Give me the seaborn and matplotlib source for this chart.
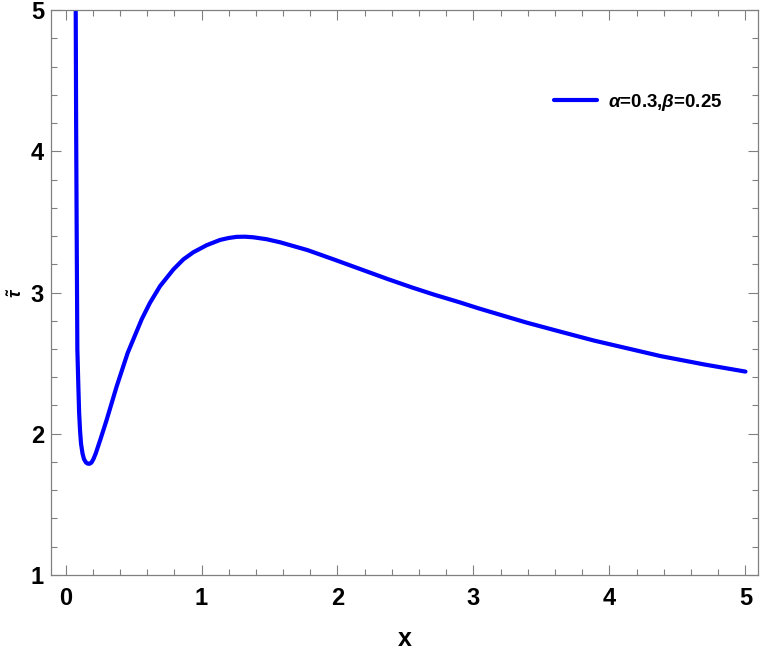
import pandas as pd
from matplotlib import pyplot as plt
from matplotlib.ticker import MultipleLocator
import seaborn as sns

# curve values
x_vals = [0.072, 0.075, 0.078, 0.082, 0.087, 0.094, 0.100, 0.107, 0.114, 0.125,
          0.136, 0.150, 0.162, 0.175, 0.190, 0.205, 0.222, 0.260, 0.303, 0.376,
          0.457, 0.560, 0.621, 0.695, 0.793, 0.866, 0.940, 1.038, 1.136, 1.200,
          1.259, 1.320, 1.381, 1.480, 1.580, 1.780, 1.970, 2.170, 2.370, 2.550,
          2.710, 2.900, 3.040, 3.390, 3.630, 3.885, 4.130, 4.375, 4.700, 5.000]
tau_vals = [6.00, 5.00, 4.20, 3.45, 2.60, 2.35, 2.15, 2.02, 1.93, 1.86,
            1.82, 1.797, 1.789, 1.787, 1.795, 1.82, 1.86, 1.97, 2.10, 2.335,
            2.572, 2.81, 2.927, 3.045, 3.163, 3.234, 3.285, 3.335, 3.372, 3.386,
            3.394, 3.395, 3.391, 3.377, 3.355, 3.30, 3.235, 3.165, 3.095, 3.035,
            2.985, 2.93, 2.887, 2.787, 2.725, 2.66, 2.605, 2.55, 2.49, 2.44]
series_label = r'$\alpha$=0.3,$\beta$=0.25'
x_ticks = [0, 1, 2, 3, 4, 5]
y_ticks = [1, 2, 3, 4, 5]

df = pd.DataFrame({'x': x_vals, 'tau': tau_vals})

sns.set_style('ticks')
plt.rcParams['font.family'] = ['Liberation Sans', 'DejaVu Sans']
plt.rcParams['font.weight'] = 'bold'
plt.rcParams['text.color'] = 'black'
plt.rcParams['xtick.labelcolor'] = 'black'
plt.rcParams['ytick.labelcolor'] = 'black'
plt.rcParams['mathtext.fontset'] = 'custom'
plt.rcParams['mathtext.it'] = 'Liberation Sans:italic:bold'
plt.rcParams['mathtext.rm'] = 'Liberation Sans:bold'

fig = plt.figure(figsize=(7.63, 6.54), dpi=100)
ax = fig.add_axes([0.0668, 0.1208, 0.9266, 0.8639])

sns.lineplot(data=df, x='x', y='tau', color='#0000ff', lw=3, label=series_label, ax=ax,
             solid_joinstyle='round', solid_capstyle='round')

ax.set_xlim(-0.107, 5.092)
ax.set_ylim(1, 5)
ax.set_xticks(x_ticks)
ax.set_yticks(y_ticks)
ax.xaxis.set_minor_locator(MultipleLocator(0.2))
ax.yaxis.set_minor_locator(MultipleLocator(0.2))
ax.tick_params(which='both', direction='in', top=True, right=True, color='#808080',
               labelsize=17, width=0.8)
ax.tick_params(which='major', length=7)
ax.tick_params(which='minor', length=4)
ax.tick_params(axis='x', pad=9)
ax.tick_params(axis='y', pad=5)
for s in ax.spines.values():
    s.set_color('#808080')
    s.set_linewidth(0.9)

ax.set_xlabel('x', fontsize=18, fontweight='bold', labelpad=12, color='black')
ax.set_ylabel(r'$\tilde{\tau}$', fontsize=13, color='black')
ax.yaxis.set_label_coords(-0.036, 0.5)

ax.legend(loc='upper left', bbox_to_anchor=(0.687, 0.885), frameon=False,
          handlelength=2.3, handletextpad=0.6, prop={'size': 13.5, 'weight': 'bold'})

fig.savefig('out.png', dpi=100)
